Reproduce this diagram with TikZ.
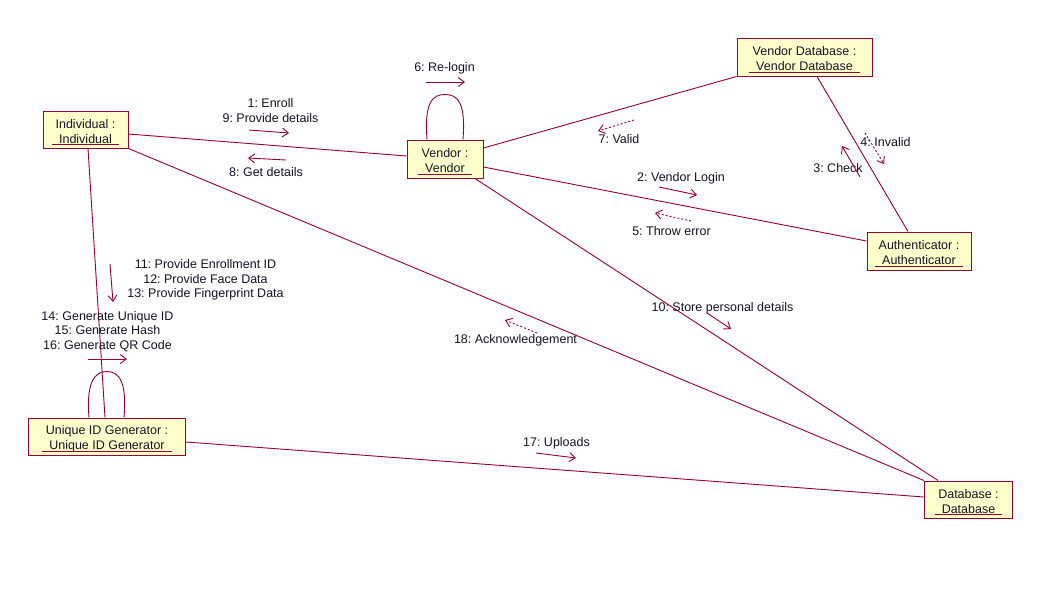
\documentclass[tikz,border=0pt]{standalone}
\usepackage{fontspec}
\setmainfont{Liberation Sans}
\usetikzlibrary{arrows.meta,calc}
\definecolor{rose}{RGB}{153,0,51}
\definecolor{boxfill}{RGB}{255,255,204}
\definecolor{txt}{RGB}{20,20,40}
\frenchspacing
\newcommand{\ulname}[1]{\setbox0\hbox{\hspace{7pt}#1\hspace{7pt}}\makebox[0pt][l]{\textcolor{rose}{\rule[-2.2pt]{\wd0}{0.9pt}}}\box0}
\newcommand{\firstln}{\rule{0pt}{14.5pt}}
\begin{document}
\begin{tikzpicture}[x=1pt,y=-1pt,
 obj/.style={draw=rose,line width=1pt,fill=boxfill,align=center,inner sep=0pt,text=txt,font=\fontsize{12.5}{15}\selectfont},
 lbl/.style={align=center,inner sep=0pt,text=txt,font=\fontsize{12.5}{14.5}\selectfont},
 link/.style={draw=rose,line width=0.9pt},
 msg/.style={draw=rose,line width=0.9pt,-{Straight Barb[length=6pt,width=9pt]}},
 ret/.style={msg,dash pattern=on 2pt off 2pt}]
\fill[white] (0,0) rectangle (1061,598);
\useasboundingbox (0,0) rectangle (1061,598);

% objects
\node[obj,minimum width=85pt,minimum height=37pt] (ind) at (85.5,129.5) {\firstln Individual :\\\ulname{Individual}};
\node[obj,minimum width=76pt,minimum height=38pt] (ven) at (445,159) {\firstln Vendor :\\\ulname{Vendor}};
\node[obj,minimum width=135pt,minimum height=38pt] (vdb) at (804.5,57) {\firstln Vendor Database :\\\ulname{Vendor Database}};
\node[obj,minimum width=104pt,minimum height=38pt] (aut) at (919,251) {\firstln Authenticator :\\\ulname{Authenticator}};
\node[obj,minimum width=157pt,minimum height=37pt] (uid) at (107,436.5) {\firstln Unique ID Generator :\\\ulname{Unique ID Generator}};
\node[obj,minimum width=88pt,minimum height=37pt] (db) at (968.5,499.5) {\firstln Database :\\\ulname{Database}};

% links
\draw[link] ($(ind.east)+(0,4.5)$) -- ($(ven.west)+(0,-3)$);
\draw[link] (ind.south east) -- (db.north west);
\draw[link] ($(ind.south)+(2.5,0)$) -- ($(uid.north)+(-2,0)$);
\draw[link] ($(ven.north)+(-18,0)$) .. controls ($(ven.north)+(-21,-38)$) and ($(ven.north)+(-12,-45)$) .. ($(ven.north)+(0,-45)$)
  .. controls ($(ven.north)+(12,-45)$) and ($(ven.north)+(21,-38)$) .. ($(ven.north)+(18,0)$);
\draw[link] ($(ven.east)+(0,-11)$) -- (vdb.south west);
\draw[link] ($(ven.east)+(0,8)$) -- ($(aut.west)+(0,-10)$);
\draw[link] ($(ven.south)+(30,0)$) -- ($(db.north west)+(14,0)$);
\draw[link] ($(vdb.south)+(12.5,0)$) -- ($(aut.north)+(-11,0)$);
\draw[link] ($(uid.east)+(0,5.5)$) -- ($(db.west)+(0,-2.5)$);
\draw[link] ($(uid.north)+(-18,0)$) .. controls ($(uid.north)+(-21,-36)$) and ($(uid.north)+(-12,-46)$) .. ($(uid.north)+(0,-46)$)
  .. controls ($(uid.north)+(12,-46)$) and ($(uid.north)+(20,-36)$) .. ($(uid.north)+(17,0)$);

% message labels
\node[lbl] (l1) at (270.5,110.5) {1: Enroll\\9: Provide details};
\node[lbl] (l8) at (266,172) {8: Get details};
\node[lbl] (l6) at (444.5,68) {6: Re-login};
\node[lbl] (l7) at (619,139) {7: Valid};
\node[lbl] (l2) at (681,178) {2: Vendor Login};
\node[lbl] (l5) at (671.5,231) {5: Throw error};
\node[lbl] (l3) at (838,168) {3: Check};
\node[lbl] (l4) at (885.5,142) {4: Invalid};
\node[lbl] (l11) at (205.5,280) {11: Provide Enrollment ID\\12: Provide Face Data\\13: Provide Fingerprint Data};
\node[lbl] (l14) at (107.5,331.5) {14: Generate Unique ID\\15: Generate Hash\\16: Generate QR Code};
\node[lbl] (l18) at (515.5,340) {18: Acknowledgement};
\node[lbl] (l10) at (722.5,308) {10: Store personal details};
\node[lbl] (l17) at (556.5,443) {17: Uploads};

% message arrows
\draw[msg] (249,130) -- (289,133);
\draw[msg] (286,160) -- (248,158);
\draw[msg] (426,82) -- (465,82);
\draw[ret] (634,120) -- (598,131);
\draw[msg] (659,187) -- (697,195);
\draw[ret] (691,221) -- (655,213);
\draw[msg] (860,177) -- (842,146);
\draw[ret] (865,133) -- (884,164);
\draw[msg] (110,264) -- (113,302);
\draw[msg] (88,359) -- (127,359);
\draw[ret] (537,333) -- (505,320);
\draw[msg] (707,313) -- (731,329);
\draw[msg] (536,453) -- (576,458);
\end{tikzpicture}
\end{document}
